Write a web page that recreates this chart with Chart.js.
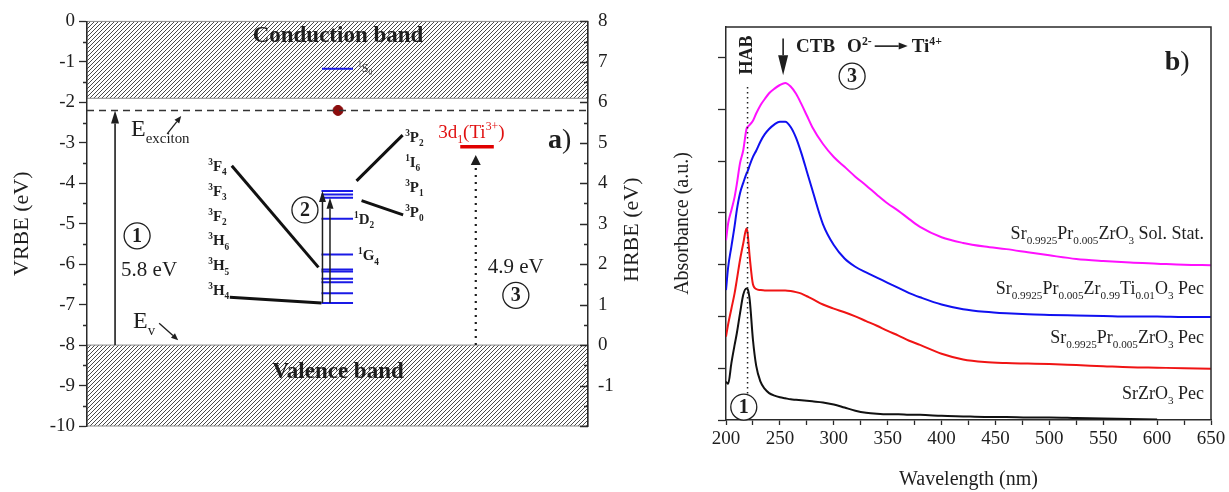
<!DOCTYPE html>
<html>
<head>
<meta charset="utf-8">
<script src="https://cdn.jsdelivr.net/npm/chart.js@4.4.1/dist/chart.umd.min.js"></script>
<style>
  body { margin: 0; background: #fff; }
  #wrap { position: relative; width: 1229px; height: 492px; }
  canvas { position: absolute; top: 0; }
  #levelChart { left: 0; }
  #absChart { left: 650px; }
</style>
</head>
<body>
<div id="wrap">
  <canvas id="levelChart" width="650" height="492"></canvas>
  <canvas id="absChart" width="579" height="492"></canvas>
</div>
<script>
// ---- panel a) : energy level scheme (VRBE / HRBE) ----
const vrbeRange = [-10, 0];
const hrbeRange = [-2, 8];
const conductionBandBottom = -1.9;
const valenceBandTop = -8;
const gapEnergy = 5.8;   // VB -> exciton, "5.8 eV"
const tiEnergy = 4.9;    // VB -> Ti3+ 3d1, "4.9 eV"
const s0Level = -1.17;
const prLevels = [-4.19, -4.28, -4.36, -4.88, -5.76, -6.13, -6.18, -6.36, -6.45, -6.72, -6.96];
const prLeftTerms = [['3', 'F', '4'], ['3', 'F', '3'], ['3', 'F', '2'], ['3', 'H', '6'], ['3', 'H', '5'], ['3', 'H', '4']];
const prRightTerms = [['3', 'P', '2'], ['1', 'I', '6'], ['3', 'P', '1'], ['3', 'P', '0']];

// ---- panel b) : absorbance spectra ----
const wavelength = [200, 202, 205, 208, 210, 213, 216, 219, 220, 222,
  225, 228, 232, 236, 240, 245, 250, 255, 260, 265,
  270, 275, 280, 290, 300, 310, 320, 330, 340, 350,
  360, 370, 380, 400, 420, 440, 460, 480, 500, 525,
  550, 575, 600, 625, 650];
const srZrO3Pec = [0.74, 0.70, 1.10, 1.45, 1.67, 2.06, 2.42, 2.54, 2.53, 2.32,
  1.55, 1.05, 0.74, 0.60, 0.52, 0.47, 0.44, 0.42, 0.40, 0.39,
  0.38, 0.37, 0.36, 0.34, 0.30, 0.24, 0.18, 0.14, 0.12, 0.11,
  0.11, 0.10, 0.10, 0.08, 0.07, 0.06, 0.06, 0.05, 0.05, 0.04,
  0.03, 0.02, 0.01, null, null];
const prPec = [1.61, 1.85, 2.15, 2.45, 2.70, 3.09, 3.41, 3.70, 3.62, 3.15,
  2.62, 2.53, 2.51, 2.50, 2.50, 2.50, 2.50, 2.50, 2.49, 2.47,
  2.44, 2.39, 2.34, 2.23, 2.15, 2.08, 2.00, 1.91, 1.82, 1.72,
  1.63, 1.53, 1.45, 1.28, 1.17, 1.12, 1.10, 1.09, 1.08, 1.06,
  1.04, 1.02, 1.01, 1.00, 0.99];
const prTiPec = [2.51, 2.95, 3.35, 3.75, 4.05, 4.38, 4.58, 4.76, 4.80, 4.92,
  5.08, 5.20, 5.38, 5.52, 5.62, 5.71, 5.76, 5.76, 5.66, 5.45,
  5.15, 4.80, 4.45, 3.78, 3.38, 3.12, 2.96, 2.85, 2.75, 2.65,
  2.55, 2.45, 2.37, 2.23, 2.14, 2.09, 2.06, 2.04, 2.03, 2.02,
  2.01, 2.00, 2.00, 1.99, 1.99];
const prSolStat = [3.47, 3.80, 4.05, 4.31, 4.55, 4.96, 5.21, 5.62, 5.66, 5.70,
  5.78, 5.92, 6.08, 6.20, 6.31, 6.40, 6.47, 6.51, 6.44, 6.30,
  6.10, 5.88, 5.66, 5.33, 5.08, 4.89, 4.70, 4.53, 4.35, 4.18,
  4.04, 3.88, 3.73, 3.53, 3.42, 3.35, 3.30, 3.24, 3.18, 3.11,
  3.07, 3.04, 3.02, 3.00, 2.99];
const seriesLabels = [
  [['Sr', ''], ['0.9925', 'sub'], ['Pr', ''], ['0.005', 'sub'], ['ZrO', ''], ['3', 'sub'], [' Sol. Stat.', '']],
  [['Sr', ''], ['0.9925', 'sub'], ['Pr', ''], ['0.005', 'sub'], ['Zr', ''], ['0.99', 'sub'], ['Ti', ''], ['0.01', 'sub'], ['O', ''], ['3', 'sub'], [' Pec', '']],
  [['Sr', ''], ['0.9925', 'sub'], ['Pr', ''], ['0.005', 'sub'], ['ZrO', ''], ['3', 'sub'], [' Pec', '']],
  [['SrZrO', ''], ['3', 'sub'], [' Pec', '']],
];
const absRange = [0, 7.59];

const FONT = '"Liberation Serif", "Times New Roman", serif';
const INK = '#1e1e1e';
const AXIS = '#2a2a2a';
const BLUE = '#1a1ae6';

function fontFor(size, bold) {
  return (bold ? 'bold ' : '') + size + 'px ' + FONT;
}

// parts: [text, 'sub' | 'sup' | '', boldOverride]
function richWidth(ctx, parts, size, bold) {
  let w = 0;
  parts.forEach(([t, kind, b]) => {
    ctx.font = fontFor(kind ? size * 0.62 : size, b === undefined ? bold : b);
    w += ctx.measureText(t).width;
  });
  return w;
}

function drawRich(ctx, x, y, parts, size, opts = {}) {
  const bold = !!opts.bold;
  if (opts.align === 'right') x -= richWidth(ctx, parts, size, bold);
  if (opts.align === 'center') x -= richWidth(ctx, parts, size, bold) / 2;
  ctx.save();
  ctx.fillStyle = opts.color || INK;
  ctx.textAlign = 'left';
  ctx.textBaseline = 'alphabetic';
  parts.forEach(([t, kind, b]) => {
    const s = kind ? size * 0.62 : size;
    ctx.font = fontFor(s, b === undefined ? bold : b);
    const dy = kind === 'sub' ? size * 0.28 : kind === 'sup' ? -size * 0.4 : 0;
    ctx.fillText(t, x, y + dy);
    x += ctx.measureText(t).width;
  });
  ctx.restore();
  return x;
}

function circled(ctx, x, y, r, label) {
  ctx.save();
  ctx.fillStyle = '#fff';
  ctx.strokeStyle = INK;
  ctx.lineWidth = 1.3;
  ctx.beginPath();
  ctx.arc(x, y, r, 0, Math.PI * 2);
  ctx.fill();
  ctx.stroke();
  ctx.fillStyle = INK;
  ctx.font = fontFor(Math.round(r * 1.5), true);
  ctx.textAlign = 'center';
  ctx.textBaseline = 'middle';
  ctx.fillText(label, x, y + 1);
  ctx.restore();
}

function arrow(ctx, [x1, y1], [x2, y2], o = {}) {
  const len = o.head || 11, hw = o.half || 4;
  const ang = Math.atan2(y2 - y1, x2 - x1);
  const bx = x2 - len * Math.cos(ang), by = y2 - len * Math.sin(ang);
  ctx.save();
  ctx.strokeStyle = ctx.fillStyle = o.color || INK;
  ctx.lineWidth = o.width || 1.5;
  ctx.setLineDash(o.dash || []);
  ctx.beginPath();
  ctx.moveTo(x1, y1);
  ctx.lineTo(bx, by);
  ctx.stroke();
  ctx.setLineDash([]);
  ctx.beginPath();
  ctx.moveTo(x2, y2);
  ctx.lineTo(bx + hw * Math.sin(ang), by - hw * Math.cos(ang));
  ctx.lineTo(bx - hw * Math.sin(ang), by + hw * Math.cos(ang));
  ctx.closePath();
  ctx.fill();
  ctx.restore();
}

function makeHatch(ctx) {
  const tile = document.createElement('canvas');
  tile.width = tile.height = 4;
  const g = tile.getContext('2d');
  g.strokeStyle = '#4a4a4a';
  g.lineWidth = 1;
  g.beginPath();
  g.moveTo(-1, 5); g.lineTo(5, -1);
  g.moveTo(-1, 1); g.lineTo(1, -1);
  g.moveTo(3, 5); g.lineTo(5, 3);
  g.stroke();
  return ctx.createPattern(tile, 'repeat');
}

// short ticks between the labelled ones, placed by the scale
function minorTicks(ctx, scale, values, xEdge, len) {
  ctx.save();
  ctx.strokeStyle = AXIS;
  ctx.lineWidth = 1.3;
  ctx.beginPath();
  values.forEach(v => {
    const p = Math.round(scale.getPixelForValue(v)) + 0.5;
    ctx.moveTo(xEdge, p);
    ctx.lineTo(xEdge + len, p);
  });
  ctx.stroke();
  ctx.restore();
}

const excitonLevel = valenceBandTop + gapEnergy;
const tiLevel = valenceBandTop + tiEnergy;
const groundLevel = prLevels[prLevels.length - 1];

function hLine(x0, x1, v, color, width, dash) {
  return {
    data: [{ x: x0, y: v }, { x: x1, y: v }],
    showLine: true, borderColor: color, borderWidth: width,
    borderDash: dash || [], pointRadius: 0, borderCapStyle: 'butt'
  };
}

const bandDiagram = {
  id: 'bandDiagram',
  beforeDraw(chart) {
    const { ctx, chartArea: a, scales: { y } } = chart;
    const cb = y.getPixelForValue(conductionBandBottom);
    const vb = y.getPixelForValue(valenceBandTop);
    ctx.save();
    ctx.fillStyle = makeHatch(ctx);
    ctx.fillRect(a.left, a.top, a.width, cb - a.top);
    ctx.fillRect(a.left, vb, a.width, a.bottom - vb);
    ctx.strokeStyle = '#8a8a8a';
    ctx.lineWidth = 1;
    ctx.strokeRect(a.left, a.top, a.width, cb - a.top);
    ctx.strokeRect(a.left, vb, a.width, a.bottom - vb);
    ctx.restore();
  },
  afterDatasetsDraw(chart) {
    const { ctx, chartArea: a, scales: { x, y, y2 } } = chart;
    const P = (xv, yv) => [x.getPixelForValue(xv), y.getPixelForValue(yv)];

    // minor ticks: outward on the left axis, inward on the right one
    const halves = [];
    for (let v = vrbeRange[0] + 0.5; v < vrbeRange[1]; v += 1) halves.push(v);
    minorTicks(ctx, y, halves, a.left, -4);
    const all = [];
    for (let v = hrbeRange[0]; v <= hrbeRange[1]; v += 0.5) all.push(v);
    minorTicks(ctx, y2, all.filter(v => !Number.isInteger(v)), a.right, -4);
    minorTicks(ctx, y2, all.filter(v => Number.isInteger(v)), a.right, -8);

    // band labels
    ctx.save();
    ctx.fillStyle = INK;
    ctx.font = fontFor(23, true);
    ctx.textAlign = 'center';
    ctx.textBaseline = 'middle';
    ctx.fillText('Conduction band', ...P(50.1, -0.37));
    ctx.fillText('Valence band', ...P(50.1, -8.67));
    ctx.restore();

    // transitions
    arrow(ctx, P(5.6, valenceBandTop), P(5.6, excitonLevel), { width: 1.6, head: 13, half: 4 });
    arrow(ctx, P(47.0, groundLevel), P(47.0, prLevels[0]), { width: 1.5, head: 11, half: 3.5 });
    arrow(ctx, P(48.5, groundLevel), P(48.5, prLevels[2]), { width: 1.5, head: 11, half: 3.5 });
    arrow(ctx, P(77.6, valenceBandTop), P(77.6, tiLevel - 0.2), { width: 2.2, head: 10, half: 5, dash: [2, 5] });

    // leaders from term symbols to the level ladder
    const leaders = [[28.9, -3.57, 46.2, -6.08], [28.5, -6.82, 46.8, groundLevel],
      [53.8, -3.94, 63.0, -2.81], [54.8, -4.43, 63.1, -4.78]];
    ctx.save();
    ctx.strokeStyle = '#111';
    ctx.lineWidth = 3;
    leaders.forEach(([x0, y0, x1, y1]) => {
      ctx.beginPath();
      ctx.moveTo(...P(x0, y0));
      ctx.lineTo(...P(x1, y1));
      ctx.stroke();
    });
    ctx.restore();

    // term symbols
    const term = ([m, l, j]) => [[m, 'sup'], [l, ''], [j, 'sub']];
    prLeftTerms.forEach((t, i) => {
      const [px, py] = P(24.2, -3.57 - i * 0.615);
      drawRich(ctx, px, py + 5, term(t), 15, { bold: true });
    });
    prRightTerms.forEach((t, i) => {
      const [px, py] = P(63.5, -2.85 - i * 0.62);
      drawRich(ctx, px, py + 5, term(t), 15, { bold: true });
    });
    let [tx, ty] = P(53.1, prLevels[3]);
    drawRich(ctx, tx + 1, ty + 5, term(['1', 'D', '2']), 15, { bold: true });
    [tx, ty] = P(53.9, prLevels[4]);
    drawRich(ctx, tx + 1, ty + 6, term(['1', 'G', '4']), 15, { bold: true });
    [tx, ty] = P(54.1, s0Level);
    drawRich(ctx, tx, ty + 3, [['1', 'sup'], ['S', ''], ['0', 'sub']], 12, { color: '#333' });

    // energy annotations
    [tx, ty] = P(8.8, -2.64);
    drawRich(ctx, tx, ty + 8, [['E', ''], ['exciton', 'sub']], 24);
    arrow(ctx, P(16.0, -2.78), P(18.8, -2.34), { width: 1.3, head: 7, half: 3 });
    [tx, ty] = P(9.2, -7.39);
    drawRich(ctx, tx, ty + 8, [['E', ''], ['v', 'sub']], 24);
    arrow(ctx, P(14.4, -7.46), P(18.2, -7.88), { width: 1.3, head: 7, half: 3 });

    ctx.save();
    ctx.fillStyle = INK;
    ctx.font = fontFor(21, false);
    ctx.textBaseline = 'middle';
    ctx.fillText(gapEnergy.toFixed(1) + ' eV', ...P(6.8, -6.16));
    ctx.fillText(tiEnergy.toFixed(1) + ' eV', ...P(80.0, -6.08));
    ctx.restore();

    [tx, ty] = P(70.1, -2.71);
    drawRich(ctx, tx, ty + 7, [['3d', ''], ['1', 'sub'], ['(Ti', ''], ['3+', 'sup'], [')', '']], 19, { color: '#e01010' });

    circled(ctx, ...P(10.0, -5.30), 13, '1');
    circled(ctx, ...P(43.5, -4.66), 13, '2');
    circled(ctx, ...P(85.6, -6.77), 13, '3');

    [tx, ty] = P(92.0, -2.88);
    drawRich(ctx, tx, ty + 10, [['a', '', true], [')', '', false]], 28);

    // right axis title reads bottom-to-top like the left one
    ctx.save();
    ctx.translate(chart.width - 18, (a.top + a.bottom) / 2 + 6);
    ctx.rotate(-Math.PI / 2);
    ctx.fillStyle = INK;
    ctx.font = fontFor(22, false);
    ctx.textAlign = 'center';
    ctx.textBaseline = 'middle';
    ctx.fillText('HRBE (eV)', 0, 0);
    ctx.restore();
  }
};

new Chart(document.getElementById('levelChart'), {
  type: 'scatter',
  data: {
    datasets: [
      hLine(0, 100, excitonLevel, '#333', 1.5, [7, 5]),
      hLine(46.9, 53.1, s0Level, BLUE, 2),
      ...prLevels.map(v => hLine(46.8, 53.1, v, BLUE, 2)),
      hLine(74.5, 81.2, tiLevel, '#e00000', 3.5),
      { data: [{ x: 50.1, y: excitonLevel }], pointRadius: 5,
        pointBackgroundColor: '#8b0d0d', pointBorderColor: '#8b0d0d' }
    ]
  },
  options: {
    responsive: false,
    animation: false,
    layout: { padding: { top: 20, bottom: 66, left: 0, right: 0 } },
    plugins: { legend: { display: false }, tooltip: { enabled: false } },
    scales: {
      x: { type: 'linear', min: 0, max: 100, display: false },
      y: {
        position: 'left', min: vrbeRange[0], max: vrbeRange[1],
        ticks: { stepSize: 1, autoSkip: false, color: INK, padding: 4, font: { family: FONT, size: 19 } },
        grid: { drawOnChartArea: false, tickLength: 8, tickColor: AXIS, tickWidth: 1.3 },
        border: { color: AXIS, width: 1.5 },
        title: { display: true, text: 'VRBE (eV)', color: INK, font: { family: FONT, size: 22 }, padding: { top: 9, bottom: 0 } },
        afterFit: s => { s.width = 87; }
      },
      y2: {
        position: 'right', min: hrbeRange[0], max: hrbeRange[1],
        ticks: { stepSize: 1, autoSkip: false, color: INK, padding: 10, font: { family: FONT, size: 19 },
          callback: v => (v > hrbeRange[0] ? v : '') },
        grid: { drawOnChartArea: false, drawTicks: false },
        border: { color: AXIS, width: 1.5 },
        afterFit: s => { s.width = 62; }
      }
    }
  },
  plugins: [bandDiagram]
});

const absorbanceNotes = {
  id: 'absorbanceNotes',
  afterDatasetsDraw(chart) {
    const { ctx, chartArea: a, scales: { x, y } } = chart;
    const P = (xv, yv) => [x.getPixelForValue(xv), y.getPixelForValue(yv)];

    // frame
    ctx.save();
    ctx.strokeStyle = AXIS;
    ctx.lineWidth = 1.5;
    ctx.beginPath();
    ctx.moveTo(a.left, a.top);
    ctx.lineTo(a.right, a.top);
    ctx.lineTo(a.right, a.bottom);
    ctx.stroke();

    // host absorption band marker
    ctx.setLineDash([1.5, 3.5]);
    ctx.lineWidth = 1.5;
    ctx.strokeStyle = '#222';
    ctx.beginPath();
    ctx.moveTo(...P(220, 6.43));
    ctx.lineTo(...P(220, 0.5));
    ctx.stroke();
    ctx.restore();

    ctx.save();
    ctx.translate(...P(219.6, 7.05));
    ctx.rotate(-Math.PI / 2);
    ctx.fillStyle = INK;
    ctx.font = fontFor(18, true);
    ctx.textAlign = 'center';
    ctx.textBaseline = 'middle';
    ctx.fillText('HAB', 0, 0);
    ctx.restore();

    // charge transfer band
    arrow(ctx, P(253, 7.37), P(253, 6.66), { width: 1.6, head: 20, half: 5 });
    let [tx, ty] = P(265, 7.24);
    ty += 7;
    tx = drawRich(ctx, tx, ty, [['CTB', '']], 19, { bold: true });
    tx = drawRich(ctx, tx + 12, ty, [['O', ''], ['2-', 'sup']], 19, { bold: true });
    arrow(ctx, [tx + 3, ty - 6], [tx + 36, ty - 6], { width: 1.6, head: 9, half: 3.5 });
    drawRich(ctx, tx + 40, ty, [['Ti', ''], ['4+', 'sup']], 19, { bold: true });

    circled(ctx, ...P(317, 6.64), 13, '3');
    circled(ctx, ...P(216.5, 0.25), 13, '1');

    [tx, ty] = P(607, 6.95);
    drawRich(ctx, tx, ty + 10, [['b', '', true], [')', '', false]], 28);

    // series names
    const labelY = [3.61, 2.55, 1.60, 0.52];
    seriesLabels.forEach((parts, i) => {
      const [lx, ly] = P(643.5, labelY[i]);
      drawRich(ctx, lx, ly + 6, parts, 18, { align: 'right' });
    });
  }
};

const curve = vals => wavelength
  .map((w, i) => ({ x: w, y: vals[i] }))
  .filter(p => p.y !== null);

const lineStyle = color => ({
  borderColor: color, borderWidth: 2, pointRadius: 0,
  cubicInterpolationMode: 'monotone', fill: false
});

new Chart(document.getElementById('absChart'), {
  type: 'line',
  data: {
    datasets: [
      { label: 'SrZrO3 Pec', data: curve(srZrO3Pec), ...lineStyle('#111') },
      { label: 'Sr0.9925Pr0.005ZrO3 Pec', data: curve(prPec), ...lineStyle('#f01414') },
      { label: 'Sr0.9925Pr0.005Zr0.99Ti0.01O3 Pec', data: curve(prTiPec), ...lineStyle('#1010f0') },
      { label: 'Sr0.9925Pr0.005ZrO3 Sol. Stat.', data: curve(prSolStat), ...lineStyle('#ff10ff') }
    ]
  },
  options: {
    responsive: false,
    animation: false,
    layout: { padding: { top: 27, right: 18, left: 0, bottom: 0 } },
    plugins: { legend: { display: false }, tooltip: { enabled: false } },
    scales: {
      x: {
        type: 'linear', min: 200, max: 650,
        ticks: { stepSize: 25, autoSkip: false, maxRotation: 0, color: INK, padding: 3,
          font: { family: FONT, size: 19 }, callback: v => (v % 50 === 0 ? v : '') },
        grid: { drawOnChartArea: false, tickLength: 5, tickColor: AXIS, tickWidth: 1.3 },
        border: { color: AXIS, width: 1.5 },
        title: { display: true, text: 'Wavelength (nm)', color: INK, font: { family: FONT, size: 20 }, padding: { top: 0, bottom: 0 } },
        afterFit: s => { s.height = 72; }
      },
      y: {
        min: absRange[0], max: absRange[1],
        ticks: { stepSize: 1, includeBounds: false, callback: () => '' },
        grid: { drawOnChartArea: false, tickLength: 8, tickColor: AXIS, tickWidth: 1.3 },
        border: { color: AXIS, width: 1.5 },
        title: { display: true, text: 'Absorbance (a.u.)', color: INK, font: { family: FONT, size: 20 }, padding: { top: 21, bottom: 0 } },
        afterFit: s => { s.width = 76; }
      }
    }
  },
  plugins: [absorbanceNotes]
});
</script>
</body>
</html>
